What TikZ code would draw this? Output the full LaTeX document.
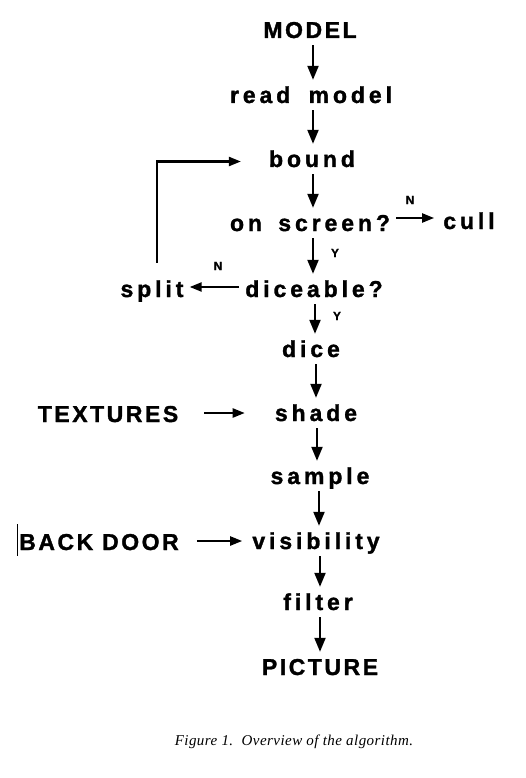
\documentclass[tikz,border=0pt]{standalone}
\usepackage{fontspec}
\usetikzlibrary{arrows.meta,calc}
\newfontfamily\capsfont[LetterSpace=11,FakeBold=1.4]{Liberation Sans Bold}
\newfontfamily\lowfont[LetterSpace=17,FakeBold=1.4]{Liberation Sans Bold}
\newfontfamily\yesnofont[FakeBold=0.8]{Liberation Sans Bold}
\newfontfamily\captionfont[LetterSpace=3]{Liberation Serif Italic}
\begin{document}
\begin{tikzpicture}[x=1pt,y=-1pt,
  lab/.style={inner sep=0pt, text height=15pt, text depth=4pt, anchor=base},
  capslab/.style={lab, font=\capsfont\fontsize{23}{27}\selectfont},
  lowlab/.style={lab, font=\lowfont\fontsize{23}{27}\selectfont},
  yn/.style={inner sep=0pt, font=\yesnofont\fontsize{12}{14}\selectfont},
  arr/.style={line width=2.2pt, -{Triangle[length=14pt,width=11pt]}},
  harr/.style={line width=2.2pt, -{Triangle[length=12pt,width=9pt]}},
  vflow/.style={arr, shorten <=3pt, shorten >=8pt}]
\fill[white] (0,0) rectangle (525,778);
\path[use as bounding box] (0,0) rectangle (525,778);

% column x positions of the vertical arrows
\coordinate (c1) at (313,0);
\coordinate (c5) at (315,0);
\coordinate (c6) at (316,0);
\coordinate (c7) at (317,0);
\coordinate (c8) at (319,0);
\coordinate (c9) at (320,0);
% row y positions of the horizontal arrows
\coordinate (r1) at (0,218);
\coordinate (r2) at (0,287);
\coordinate (r3) at (0,413);
\coordinate (r4) at (0,541);
\coordinate (lx) at (157,0);

\node[capslab] (model) at (310,38) {MODEL};
\node[lowlab] (read) at (311,103) {read \hspace{8pt}model};
\node[lowlab] (bound) at (312,167) {bound};
\node[lowlab] (onscreen) at (310,231) {on \hspace{6pt}screen?};
\node[lowlab] (cull) at (469,229) {cull};
\node[lowlab] (diceable) at (314,297) {diceable?};
\node[lowlab] (split) at (152,297) {split};
\node[lowlab] (dice) at (311,357) {dice};
\node[capslab] (textures) at (108,422) {TEXTURES};
\node[lowlab] (shade) at (316,421) {shade};
\node[lowlab] (sample) at (320,484) {sample};
\node[capslab] (backdoor) at (99,550) {BACK DOOR};
\node[lowlab] (visibility) at (316,549) {visibility};
\node[lowlab] (filter) at (318,610) {filter};
\node[capslab] (picture) at (320,675) {PICTURE};

\node[yn] (n1) at (410,200) {N};
\node[yn] (y1) at (335,253) {Y};
\node[yn] (n2) at (218,266) {N};
\node[yn] (y2) at (337,316) {Y};

\node[inner sep=0pt, anchor=base, font=\captionfont\fontsize{15}{18}\selectfont]
  (caption) at (294,745) {Figure 1.\ \ Overview of the algorithm.};

% vertical flow
\draw[vflow] (model.south -| c1) -- (read.north -| c1);
\draw[vflow] (read.south -| c1) -- (bound.north -| c1);
\draw[vflow] (bound.south -| c1) -- (onscreen.north -| c1);
\draw[vflow] (onscreen.south -| c1) -- (diceable.north -| c1);
\draw[vflow] (diceable.south -| c5) -- (dice.north -| c5);
\draw[vflow] (dice.south -| c6) -- (shade.north -| c6);
\draw[vflow] (shade.south -| c7) -- (sample.north -| c7);
\draw[vflow] (sample.south -| c8) -- (visibility.north -| c8);
\draw[vflow] (visibility.south -| c9) -- (filter.north -| c9);
\draw[vflow] (filter.south -| c9) -- (picture.north -| c9);

% horizontal arrows
\draw[harr, shorten <=6pt, shorten >=9pt] (onscreen.east |- r1) -- (cull.west |- r1);
\draw[harr, shorten <=6pt, shorten >=6pt] (diceable.west |- r2) -- (split.east |- r2);
\draw[harr, shorten <=26pt, shorten >=30pt] (textures.east |- r3) -- (shade.west |- r3);
\draw[harr, shorten <=18pt, shorten >=10pt] (backdoor.east |- r4) -- (visibility.west |- r4);

% loop back from split to bound
\draw[harr, shorten <=19pt, shorten >=28pt] (split.north -| lx) |- (bound.west);

% scan mark left of BACK DOOR
\draw[line width=0.7pt] (17,524) -- (17,556);
\end{tikzpicture}
\end{document}
